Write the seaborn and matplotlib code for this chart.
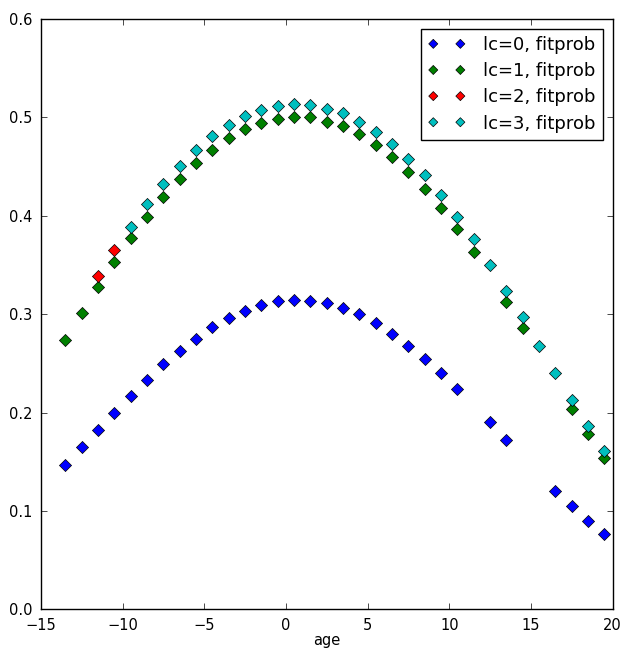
import numpy as np
import pandas as pd
import matplotlib
matplotlib.use("Agg")
import matplotlib.pyplot as plt
import seaborn as sns

# Age bins (bin centres)
age = [-13.5, -12.5, -11.5, -10.5, -9.5, -8.5, -7.5, -6.5, -5.5, -4.5,
       -3.5, -2.5, -1.5, -0.5, 0.5, 1.5, 2.5, 3.5, 4.5, 5.5,
       6.5, 7.5, 8.5, 9.5, 10.5, 11.5, 12.5, 13.5, 14.5, 15.5,
       16.5, 17.5, 18.5, 19.5]

nan = np.nan
# fitted probability per latent class (nan = bin not fitted)
fitprob_lc0 = [0.147, 0.165, 0.182, 0.200, 0.217, 0.233, 0.249, 0.263, 0.275, 0.287,
               0.296, 0.303, 0.309, 0.313, 0.314, 0.313, 0.311, 0.306, 0.300, 0.291,
               0.280, 0.268, 0.254, 0.240, 0.224, nan, 0.190, 0.172, nan, nan,
               0.120, 0.105, 0.090, 0.077]
fitprob_lc1 = [0.274, 0.301, 0.328, 0.353, 0.377, 0.399, 0.419, 0.437, 0.454, 0.467,
               0.479, 0.488, 0.494, 0.498, 0.500, 0.500, 0.495, 0.491, 0.483, 0.472,
               0.460, 0.445, 0.427, 0.408, 0.387, 0.363, nan, 0.312, 0.286, nan,
               nan, 0.204, 0.178, 0.154]
fitprob_lc2 = [nan, nan, 0.339, 0.365, nan, nan, nan, nan, nan, nan,
               nan, nan, nan, nan, nan, nan, nan, nan, nan, nan,
               nan, nan, nan, nan, nan, nan, nan, nan, nan, nan,
               nan, nan, nan, nan]
fitprob_lc3 = [nan, nan, nan, nan, 0.389, 0.412, 0.432, 0.451, 0.467, 0.481,
               0.492, 0.501, 0.508, 0.512, 0.514, 0.513, 0.509, 0.504, 0.495, 0.485,
               0.473, 0.458, 0.441, 0.421, 0.399, 0.376, 0.350, 0.324, 0.297, 0.268,
               0.240, 0.213, 0.186, 0.161]

series_labels = ["lc=0, fitprob", "lc=1, fitprob", "lc=2, fitprob", "lc=3, fitprob"]
series_values = [fitprob_lc0, fitprob_lc1, fitprob_lc2, fitprob_lc3]
series_colors = ["#0000ff", "#008000", "#ff0000", "#00bfbf"]

sns.set_style("ticks")
plt.rcParams.update({
    "font.family": ["DejaVu Sans"],
    "xtick.direction": "in",
    "ytick.direction": "in",
    "xtick.top": True,
    "ytick.right": True,
    "xtick.major.size": 4,
    "ytick.major.size": 4,
    "xtick.major.pad": 6,
    "ytick.major.pad": 6,
    "axes.edgecolor": "black",
    "axes.linewidth": 1.0,
    "xtick.color": "black",
    "ytick.color": "black",
    "text.color": "black",
    "axes.labelcolor": "black",
})

fig = plt.figure(figsize=(6.24, 6.49), dpi=100)
ax = fig.add_axes([0.0657, 0.0612, 0.9160, 0.9095])

for label, vals, color in zip(series_labels, series_values, series_colors):
    df = pd.DataFrame({"age": age, "fitprob": vals}).dropna()
    sns.scatterplot(data=df, x="age", y="fitprob", ax=ax, marker="D", s=38,
                    color=color, edgecolor="black", linewidth=0.5, label=label)

ax.set_xlim(-15, 20)
ax.set_ylim(0, 0.6)
ax.set_xticks([-15, -10, -5, 0, 5, 10, 15, 20])
ax.set_yticks([0.0, 0.1, 0.2, 0.3, 0.4, 0.5, 0.6])
ax.set_yticklabels(["0.0", "0.1", "0.2", "0.3", "0.4", "0.5", "0.6"])
ax.tick_params(labelsize=10.5, width=0.5)
ax.set_xlabel("age", fontsize=10.5, labelpad=0.5)
ax.set_ylabel("")

leg = ax.legend(loc="upper right", scatterpoints=2, scatteryoffsets=[0.5],
                markerscale=0.75, fontsize=13, frameon=True, fancybox=False,
                framealpha=1, edgecolor="black", borderpad=0.4,
                labelspacing=0.45, handlelength=2.1, handletextpad=0.95,
                borderaxespad=0.55)
leg.get_frame().set_linewidth(1.0)

fig.savefig("out.png", dpi=100, facecolor="white")
